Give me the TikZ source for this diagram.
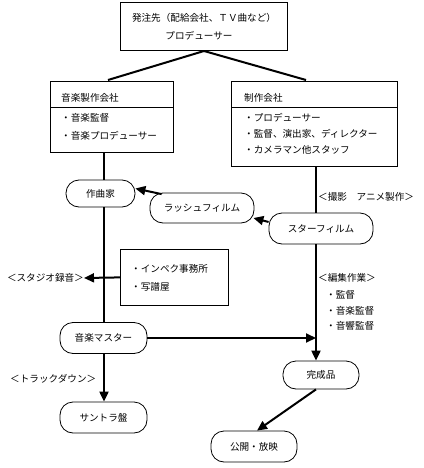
\documentclass[tikz,border=0pt]{standalone}
\usepackage{fontspec}
\setmainfont{Noto Sans CJK JP}
\usetikzlibrary{arrows.meta,calc}
\begin{document}
\begin{tikzpicture}[x=1pt,y=-1pt,
  font=\fontsize{9.6}{12}\selectfont,
  box/.style={draw,line width=0.8pt,inner sep=0pt,anchor=north west},
  rnd/.style={draw,line width=0.8pt,rounded corners=13pt,inner sep=0pt},
  txt/.style={inner sep=0pt,anchor=west},
  conn/.style={line width=2pt},
  arr/.style={line width=2pt,-{Triangle[length=10pt,width=9pt]}}]
\useasboundingbox (0,0) rectangle (423,468);
% top box
\node[box,minimum width=167pt,minimum height=48pt] (top) at (120,2) {};
\node[inner sep=0pt] (t1) at (204,18) {発注先（配給会社、ＴＶ曲など）};
\node[inner sep=0pt] (t2) at (199,36) {プロデューサー};
% left box
\node[box,minimum width=123pt,minimum height=71pt] (mbox) at (50,81) {};
\draw[line width=0.8pt] (50,107) -- (173,107);
\node[txt] (m0) at (61,98) {音楽製作会社};
\node[txt] (m1) at (61,118) {・音楽監督};
\node[txt] (m2) at (61,136) {・音楽プロデューサー};
% right box
\node[box,minimum width=166pt,minimum height=85pt] (pbox) at (231,81) {};
\draw[line width=0.8pt] (231,107) -- (397,107);
\node[txt] (p0) at (244,98) {制作会社};
\node[txt] (p1) at (244,118) {・プロデューサー};
\node[txt] (p2) at (244,134) {・監督、演出家、ディレクター};
\node[txt] (p3) at (244,150) {・カメラマン他スタッフ};
% connectors from top
\coordinate (tb) at (204,51);
\draw[conn] (tb) -- (108,80);
\draw[conn] (tb) -- (306,80);
% rounded nodes
\node[rnd,minimum width=69pt,minimum height=27pt] (comp) at (100.5,193.5) {作曲家};
\node[rnd,minimum width=104pt,minimum height=30pt] (rush) at (202,208) {ラッシュフィルム};
\node[rnd,minimum width=104pt,minimum height=31pt] (star) at (321,228.5) {スターフィルム};
\node[rnd,minimum width=87pt,minimum height=31pt] (mast) at (103.5,338) {音楽マスター};
\node[rnd,minimum width=87pt,minimum height=31pt] (sant) at (103.5,417.5) {サントラ盤};
\node[rnd,minimum width=76pt,minimum height=28pt] (kans) at (321,375) {完成品};
\node[rnd,minimum width=86pt,minimum height=31pt] (koka) at (254,446.5) {公開・放映};
% inpeku box
\node[box,minimum width=108pt,minimum height=56pt] (inb) at (120,249) {};
\node[txt] (i1) at (131,269) {・インペク事務所};
\node[txt] (i2) at (131,287) {・写譜屋};
% labels
\node[txt,anchor=east] (studio) at (84,278) {＜スタジオ録音＞};
\node[txt] (satsu) at (318,197) {＜撮影　アニメ製作＞};
\node[txt] (hen) at (318,278) {＜編集作業＞};
\node[txt] (h1) at (326,295) {・監督};
\node[txt] (h2) at (326,311) {・音楽監督};
\node[txt] (h3) at (326,326) {・音響監督};
\node[txt] (track) at (10,379) {＜トラックダウン＞};
% column coordinates
\coordinate (L) at (104,0);
\coordinate (R) at (316,0);
% left column
\draw[conn] (mbox.south -| L) -- (comp.north -| L);
\draw[conn] (comp.south -| L) -- (mast.north -| L);
\draw[arr] (mast.south -| L) -- (sant.north -| L);
% right column
\draw[conn] (pbox.south -| R) -- (star.north -| R);
\draw[arr] (star.south -| R) -- (kans.north -| R);
\draw[arr] (mast.east) -- (mast.east -| R);
\draw[arr] (kans.south -| R) -- ($(koka.north)+(3,0)$);
% film arrows
\draw[arr] ($(rush.north west)+(12,1.5)$) -- ($(comp.east)+(0,-5)$);
\draw[arr] ($(star.west)+(0,-6.5)$) -- ($(rush.east)+(-1,10)$);
\draw[arr] (inb.west) -- (studio.east);
\end{tikzpicture}
\end{document}
